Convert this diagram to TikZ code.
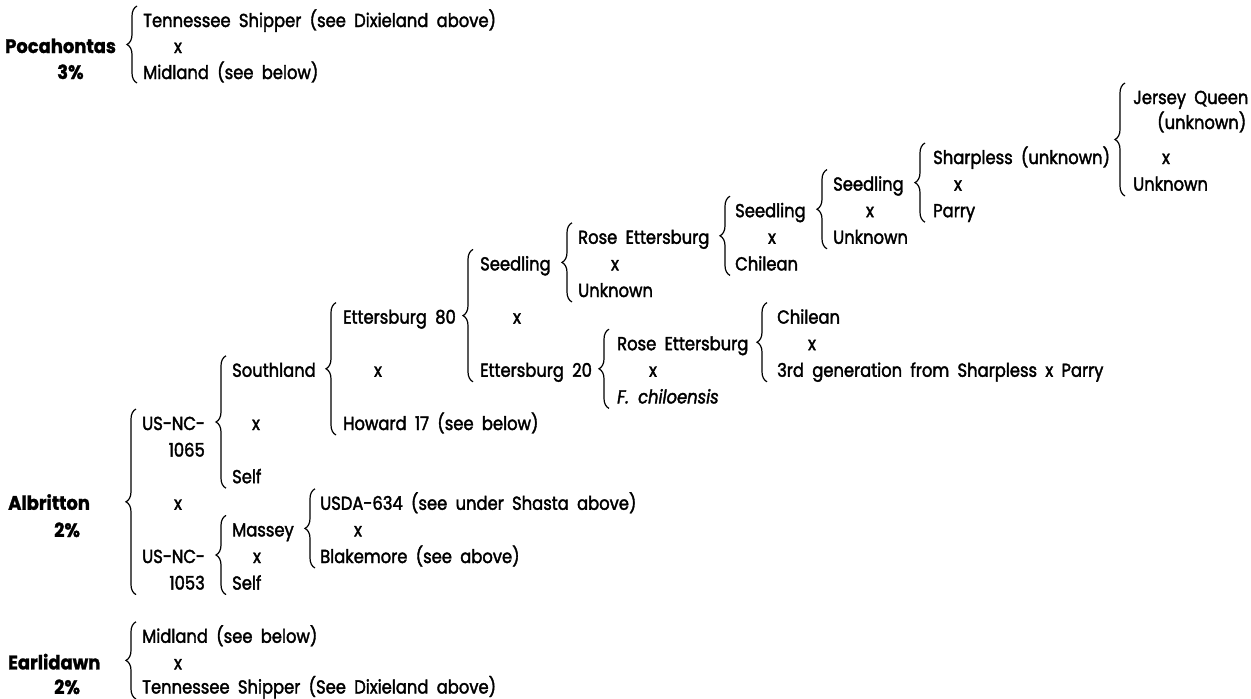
\documentclass[tikz,border=0pt]{standalone}
\usepackage{fontspec}
\usetikzlibrary{decorations.pathreplacing}
\newfontfamily\txtfont{Poppins}[FakeStretch=0.87, FakeBold=2.0, WordSpace=1.9]
\newfontfamily\lblfont{Poppins}[FakeStretch=0.92, FakeBold=1.2]

% brace: path x, top y, bottom y
\newcommand\brk[3]{\draw[brc] (#1,#3) -- (#1,#2);}

\begin{document}
\begin{tikzpicture}[x=1pt,y=-1pt,
  txt/.style={anchor=base west, inner sep=0pt, font=\txtfont\fontsize{18.8}{22}\selectfont},
  cross/.style={anchor=base, inner sep=0pt, font=\txtfont\fontsize{18.8}{22}\selectfont},
  lbl/.style={anchor=base west, inner sep=0pt, font=\lblfont\bfseries\fontsize{19.5}{22}\selectfont},
  brc/.style={decorate, decoration={brace, amplitude=10pt}, line width=1.2pt}]
\useasboundingbox (0,0) rectangle (1251,699);

% ---- Pocahontas ----
\node[lbl] (poc) at (5,53) {Pocahontas};
\node[lbl] (pocp) at (57,79) {3\%};
\brk{137}{6}{83}
\node[txt] (poc1) at (143,27) {Tennessee Shipper (see Dixieland above)};
\node[cross] (pocx) at (178,53) {x};
\node[txt] (poc2) at (143,79) {Midland (see below)};

% ---- Jersey Queen ----
\brk{1125}{83}{196}
\node[txt] (jq1) at (1133,104) {Jersey Queen};
\node[txt] (jq1b) at (1157,129) {(unknown)};
\node[cross] (jqx) at (1166,164) {x};
\node[txt] (jq2) at (1133,190.6) {Unknown};

% ---- Sharpless x Parry ----
\brk{925}{143}{222.2}
\node[txt] (sh1) at (933,164) {Sharpless (unknown)};
\node[cross] (shx) at (958,190.6) {x};
\node[txt] (sh2) at (933,217.2) {Parry};

% ---- Seedling (4th) ----
\brk{827}{169.6}{248.8}
\node[txt] (sd4) at (833,190.6) {Seedling};
\node[cross] (sd4x) at (870,217.2) {x};
\node[txt] (sd4b) at (833,243.8) {Unknown};

% ---- Seedling (3rd) ----
\brk{730}{196.2}{275.4}
\node[txt] (sd3) at (735,217.2) {Seedling};
\node[cross] (sd3x) at (772,243.8) {x};
\node[txt] (sd3b) at (735,270.4) {Chilean};

% ---- Rose Ettersburg (upper) ----
\brk{572}{222.8}{302}
\node[txt] (re1) at (578,243.8) {Rose Ettersburg};
\node[cross] (re1x) at (615,270.4) {x};
\node[txt] (re1b) at (578,297) {Unknown};

% ---- Seedling x Ettersburg 20 ----
\brk{473}{249.4}{381.8}
\node[txt] (sd1) at (480,270.4) {Seedling};
\node[cross] (sd1x) at (517,323.6) {x};
\node[txt] (e20) at (480,376.8) {Ettersburg 20};

% ---- Rose Ettersburg (lower) ----
\brk{609}{329.2}{408.4}
\node[txt] (re2) at (617,350.2) {Rose Ettersburg};
\node[cross] (re2x) at (653,376.8) {x};
\node[txt,font=\txtfont\itshape\fontsize{18.8}{22}\selectfont] (fch) at (617,403.4) {F. chiloensis};

% ---- Chilean x 3rd generation ----
\brk{767}{302.6}{381.8}
\node[txt] (ch) at (777,323.6) {Chilean};
\node[cross] (chx) at (812,350.2) {x};
\node[txt] (g3) at (777,376.8) {3rd generation from Sharpless x Parry};

% ---- Ettersburg 80 x Howard 17 ----
\brk{336}{302.6}{435}
\node[txt] (e80) at (343,323.6) {Ettersburg 80};
\node[cross] (e80x) at (378,376.8) {x};
\node[txt] (h17) at (343,430) {Howard 17 (see below)};

% ---- Southland x Self ----
\brk{226}{355.8}{488.2}
\node[txt] (sl) at (232,376.8) {Southland};
\node[cross] (slx) at (256,430) {x};
\node[txt] (sls) at (232,483.2) {Self};

% ---- Albritton ----
\node[lbl] (alb) at (8,509.8) {Albritton};
\node[lbl] (albp) at (54,537) {2\%};
\brk{136}{409}{594.6}
\node[txt] (n65) at (142,430) {US-NC-};
\node[txt,anchor=base east] (n65b) at (205,456.6) {1065};
\node[cross] (albx) at (178,509.8) {x};
\node[txt] (n53) at (142,563) {US-NC-};
\node[txt,anchor=base east] (n53b) at (205,589.6) {1053};

% ---- Massey x Self ----
\brk{226}{515.4}{594.6}
\node[txt] (ms) at (232,536.4) {Massey};
\node[cross] (msx) at (257,563) {x};
\node[txt] (mss) at (232,589.6) {Self};

% ---- USDA-634 x Blakemore ----
\brk{315}{488.8}{568}
\node[txt] (us) at (320,509.8) {USDA-634 (see under Shasta above)};
\node[cross] (usx) at (358,536.4) {x};
\node[txt] (bl) at (320,563) {Blakemore (see above)};

% ---- Earlidawn ----
\node[lbl] (ear) at (8,669.4) {Earlidawn};
\node[lbl] (earp) at (54,694) {2\%};
\brk{136}{621.8}{699}
\node[txt] (ea1) at (142,642.8) {Midland (see below)};
\node[cross] (eax) at (178,669.4) {x};
\node[txt] (ea2) at (142,693.5) {Tennessee Shipper (See Dixieland above)};
\end{tikzpicture}
\end{document}
